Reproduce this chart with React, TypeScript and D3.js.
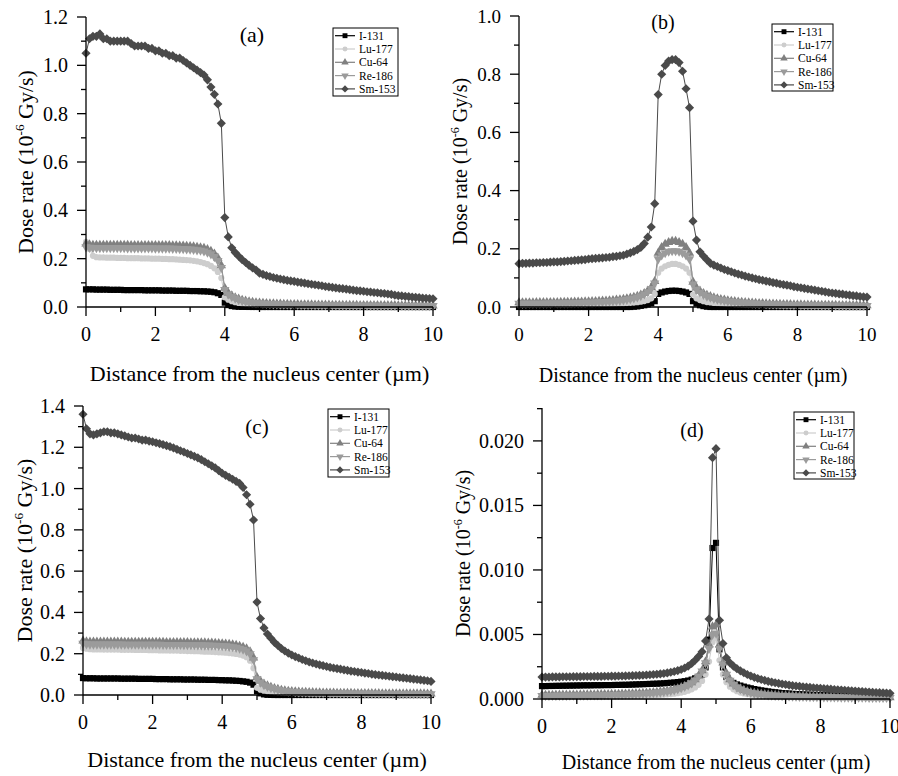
import React from 'react';
import * as d3 from 'd3';

// distance grid (µm), 0.1 step
const xs = d3.range(101).map(i => i / 10);

const seriesNames = ['I-131', 'Lu-177', 'Cu-64', 'Re-186', 'Sm-153'];
const seriesColors = ['#000000', '#cdcdcd', '#808080', '#9b9b9b', '#4a4a4a'];
const seriesShapes = ['square', 'circle', 'triangle', 'triangleDown', 'diamond'];

const xMajor = [0, 2, 4, 6, 8, 10];
const xMinor = [1, 3, 5, 7, 9];

// ---- panel (a)
const aI131 = [
  0.073, 0.073, 0.073, 0.072, 0.072, 0.072, 0.072, 0.071, 0.071, 0.071,
  0.071, 0.070, 0.070, 0.070, 0.070, 0.070, 0.070, 0.069, 0.069, 0.069,
  0.069, 0.069, 0.068, 0.068, 0.068, 0.068, 0.067, 0.067, 0.067, 0.067,
  0.066, 0.066, 0.066, 0.065, 0.065, 0.064, 0.063, 0.061, 0.057, 0.050,
  0.018, 0.008, 0.004, 0.002, 0.001, 0.0005, 0.0003, 0.0002, 0.0001, 0.0001,
  0, 0, 0, 0, 0, 0, 0, 0, 0, 0,
  0, 0, 0, 0, 0, 0, 0, 0, 0, 0,
  0, 0, 0, 0, 0, 0, 0, 0, 0, 0,
  0, 0, 0, 0, 0, 0, 0, 0, 0, 0,
  0, 0, 0, 0, 0, 0, 0, 0, 0, 0,
  0,
];
const aLu177 = [
  0.270, 0.240, 0.212, 0.206, 0.205, 0.205, 0.204, 0.204, 0.204, 0.203,
  0.203, 0.203, 0.202, 0.202, 0.202, 0.202, 0.201, 0.201, 0.201, 0.200,
  0.200, 0.200, 0.199, 0.199, 0.198, 0.198, 0.197, 0.196, 0.195, 0.194,
  0.193, 0.191, 0.189, 0.186, 0.182, 0.177, 0.170, 0.160, 0.145, 0.120,
  0.040, 0.030, 0.024, 0.020, 0.017, 0.015, 0.013, 0.012, 0.011, 0.010,
  0.0095, 0.0090, 0.0087, 0.0084, 0.0081, 0.0079, 0.0077, 0.0075, 0.0073, 0.0071,
  0.0070, 0.0068, 0.0067, 0.0066, 0.0064, 0.0063, 0.0062, 0.0061, 0.0060, 0.0059,
  0.0058, 0.0057, 0.0056, 0.0055, 0.0054, 0.0054, 0.0053, 0.0052, 0.0051, 0.0051,
  0.0050, 0.0049, 0.0049, 0.0048, 0.0047, 0.0047, 0.0046, 0.0046, 0.0045, 0.0045,
  0.0044, 0.0044, 0.0043, 0.0043, 0.0042, 0.0042, 0.0041, 0.0041, 0.0040, 0.0040,
  0.0040,
];
const aCu64 = [
  0.262, 0.258, 0.256, 0.256, 0.256, 0.256, 0.256, 0.256, 0.256, 0.256,
  0.256, 0.256, 0.256, 0.255, 0.255, 0.255, 0.255, 0.255, 0.255, 0.255,
  0.255, 0.255, 0.255, 0.255, 0.255, 0.254, 0.254, 0.253, 0.253, 0.252,
  0.251, 0.250, 0.248, 0.246, 0.243, 0.238, 0.231, 0.220, 0.203, 0.172,
  0.078, 0.058, 0.047, 0.039, 0.033, 0.028, 0.025, 0.022, 0.020, 0.018,
  0.017, 0.016, 0.015, 0.014, 0.0135, 0.013, 0.0125, 0.012, 0.0115, 0.011,
  0.0107, 0.0104, 0.0101, 0.0098, 0.0095, 0.0093, 0.0091, 0.0089, 0.0087, 0.0085,
  0.0083, 0.0081, 0.0080, 0.0078, 0.0077, 0.0075, 0.0074, 0.0073, 0.0072, 0.0070,
  0.0069, 0.0068, 0.0067, 0.0066, 0.0065, 0.0064, 0.0063, 0.0062, 0.0061, 0.0061,
  0.0060, 0.0059, 0.0058, 0.0058, 0.0057, 0.0056, 0.0056, 0.0055, 0.0054, 0.0054,
  0.0053,
];
const aRe186 = [
  0.248, 0.246, 0.245, 0.245, 0.245, 0.245, 0.245, 0.245, 0.245, 0.245,
  0.245, 0.245, 0.244, 0.244, 0.244, 0.244, 0.244, 0.244, 0.244, 0.244,
  0.243, 0.243, 0.243, 0.243, 0.243, 0.242, 0.242, 0.241, 0.241, 0.240,
  0.239, 0.238, 0.236, 0.234, 0.231, 0.226, 0.219, 0.208, 0.192, 0.163,
  0.072, 0.053, 0.043, 0.036, 0.030, 0.026, 0.023, 0.020, 0.018, 0.017,
  0.016, 0.015, 0.014, 0.013, 0.0125, 0.012, 0.0115, 0.011, 0.0105, 0.010,
  0.0098, 0.0095, 0.0092, 0.0090, 0.0087, 0.0085, 0.0083, 0.0081, 0.0079, 0.0077,
  0.0076, 0.0074, 0.0073, 0.0071, 0.0070, 0.0069, 0.0068, 0.0066, 0.0065, 0.0064,
  0.0063, 0.0062, 0.0061, 0.0060, 0.0059, 0.0058, 0.0058, 0.0057, 0.0056, 0.0055,
  0.0055, 0.0054, 0.0053, 0.0053, 0.0052, 0.0051, 0.0051, 0.0050, 0.0050, 0.0049,
  0.0049,
];
const aSm153 = [
  1.05, 1.11, 1.12, 1.12, 1.13, 1.11, 1.11, 1.10, 1.10, 1.10,
  1.10, 1.10, 1.10, 1.09, 1.08, 1.08, 1.08, 1.08, 1.07, 1.07,
  1.06, 1.06, 1.05, 1.05, 1.04, 1.04, 1.03, 1.03, 1.02, 1.01,
  1.00, 0.99, 0.98, 0.97, 0.96, 0.94, 0.91, 0.88, 0.84, 0.76,
  0.37, 0.29, 0.245, 0.225, 0.21, 0.196, 0.184, 0.172, 0.162, 0.153,
  0.140, 0.135, 0.130, 0.126, 0.122, 0.119, 0.116, 0.113, 0.110, 0.108,
  0.106, 0.103, 0.101, 0.099, 0.096, 0.094, 0.092, 0.090, 0.088, 0.085,
  0.083, 0.081, 0.079, 0.077, 0.076, 0.074, 0.072, 0.070, 0.068, 0.067,
  0.065, 0.063, 0.062, 0.060, 0.059, 0.057, 0.056, 0.054, 0.052, 0.049,
  0.047, 0.046, 0.044, 0.043, 0.041, 0.040, 0.039, 0.037, 0.036, 0.035,
  0.034,
];

// ---- panel (b)
const bI131 = [
  0, 0, 0, 0, 0, 0, 0, 0, 0, 0,
  0, 0, 0, 0, 0, 0, 0, 0, 0, 0,
  0, 0, 0, 0, 0, 0, 0, 0, 0, 0,
  0, 0, 0, 0.001, 0.002, 0.004, 0.006, 0.009, 0.013, 0.020,
  0.045, 0.050, 0.053, 0.055, 0.056, 0.056, 0.055, 0.053, 0.050, 0.045,
  0.020, 0.012, 0.006, 0.003, 0.001, 0, 0, 0, 0, 0,
  0, 0, 0, 0, 0, 0, 0, 0, 0, 0,
  0, 0, 0, 0, 0, 0, 0, 0, 0, 0,
  0, 0, 0, 0, 0, 0, 0, 0, 0, 0,
  0, 0, 0, 0, 0, 0, 0, 0, 0, 0,
  0,
];
const bLu177 = [
  0.0080, 0.0080, 0.0081, 0.0081, 0.0082, 0.0082, 0.0083, 0.0083, 0.0084, 0.0084,
  0.0085, 0.0086, 0.0087, 0.0088, 0.0089, 0.0090, 0.0091, 0.0092, 0.0093, 0.0094,
  0.0096, 0.0098, 0.0100, 0.0102, 0.0104, 0.0107, 0.0110, 0.0114, 0.0118, 0.0123,
  0.0128, 0.0135, 0.0143, 0.0153, 0.0166, 0.0183, 0.0205, 0.024, 0.030, 0.045,
  0.118, 0.132, 0.140, 0.145, 0.148, 0.148, 0.145, 0.140, 0.132, 0.118,
  0.043, 0.030, 0.024, 0.020, 0.017, 0.0155, 0.014, 0.013, 0.012, 0.0112,
  0.0105, 0.0099, 0.0094, 0.0089, 0.0085, 0.0081, 0.0077, 0.0074, 0.0071, 0.0068,
  0.0066, 0.0063, 0.0061, 0.0059, 0.0057, 0.0055, 0.0054, 0.0052, 0.0051, 0.0049,
  0.0048, 0.0047, 0.0046, 0.0045, 0.0044, 0.0043, 0.0042, 0.0041, 0.0040, 0.0039,
  0.0038, 0.0038, 0.0037, 0.0036, 0.0036, 0.0035, 0.0034, 0.0034, 0.0033, 0.0033,
  0.0032,
];
const bCu64 = [
  0.0150, 0.0150, 0.0151, 0.0152, 0.0153, 0.0154, 0.0155, 0.0156, 0.0157, 0.0158,
  0.0160, 0.0162, 0.0164, 0.0166, 0.0168, 0.0170, 0.0173, 0.0176, 0.0179, 0.0182,
  0.0186, 0.0190, 0.0195, 0.0200, 0.0206, 0.0213, 0.0221, 0.0230, 0.0241, 0.0254,
  0.0269, 0.0287, 0.0309, 0.0336, 0.0370, 0.0413, 0.0470, 0.055, 0.067, 0.088,
  0.185, 0.205, 0.216, 0.222, 0.226, 0.226, 0.222, 0.216, 0.205, 0.185,
  0.086, 0.066, 0.055, 0.047, 0.041, 0.036, 0.032, 0.029, 0.026, 0.024,
  0.022, 0.0205, 0.019, 0.0178, 0.0167, 0.0157, 0.0148, 0.014, 0.0133, 0.0126,
  0.012, 0.0114, 0.0109, 0.0104, 0.0100, 0.0096, 0.0092, 0.0089, 0.0086, 0.0083,
  0.0080, 0.0078, 0.0075, 0.0073, 0.0071, 0.0069, 0.0067, 0.0065, 0.0064, 0.0062,
  0.0061, 0.0059, 0.0058, 0.0057, 0.0056, 0.0054, 0.0053, 0.0052, 0.0051, 0.0050,
  0.0049,
];
const bRe186 = [
  0.0120, 0.0120, 0.0121, 0.0122, 0.0123, 0.0124, 0.0125, 0.0126, 0.0127, 0.0128,
  0.0130, 0.0132, 0.0134, 0.0136, 0.0138, 0.0140, 0.0143, 0.0146, 0.0149, 0.0152,
  0.0156, 0.0160, 0.0165, 0.0170, 0.0176, 0.0183, 0.0191, 0.0200, 0.0211, 0.0224,
  0.0239, 0.0257, 0.0279, 0.0306, 0.0340, 0.0383, 0.0440, 0.052, 0.063, 0.082,
  0.165, 0.178, 0.186, 0.191, 0.193, 0.193, 0.191, 0.186, 0.178, 0.165,
  0.078, 0.060, 0.050, 0.043, 0.037, 0.033, 0.029, 0.026, 0.024, 0.022,
  0.0200, 0.0186, 0.0173, 0.0162, 0.0152, 0.0143, 0.0135, 0.0128, 0.0121, 0.0115,
  0.0110, 0.0105, 0.0100, 0.0096, 0.0092, 0.0088, 0.0085, 0.0082, 0.0079, 0.0076,
  0.0074, 0.0072, 0.0069, 0.0067, 0.0065, 0.0064, 0.0062, 0.0060, 0.0059, 0.0057,
  0.0056, 0.0055, 0.0053, 0.0052, 0.0051, 0.0050, 0.0049, 0.0048, 0.0047, 0.0046,
  0.0045,
];
const bSm153 = [
  0.149, 0.150, 0.150, 0.151, 0.151, 0.152, 0.152, 0.153, 0.153, 0.154,
  0.155, 0.155, 0.156, 0.157, 0.158, 0.159, 0.160, 0.161, 0.162, 0.163,
  0.165, 0.166, 0.167, 0.168, 0.169, 0.170, 0.171, 0.173, 0.174, 0.176,
  0.178, 0.182, 0.186, 0.191, 0.197, 0.205, 0.218, 0.240, 0.275, 0.355,
  0.730, 0.800, 0.830, 0.845, 0.850, 0.850, 0.840, 0.810, 0.750, 0.685,
  0.295, 0.230, 0.190, 0.175, 0.162, 0.150, 0.144, 0.139, 0.134, 0.129,
  0.125, 0.121, 0.117, 0.113, 0.110, 0.106, 0.103, 0.100, 0.097, 0.094,
  0.092, 0.089, 0.087, 0.084, 0.082, 0.079, 0.077, 0.075, 0.073, 0.070,
  0.068, 0.066, 0.064, 0.062, 0.060, 0.058, 0.056, 0.054, 0.052, 0.050,
  0.048, 0.047, 0.045, 0.044, 0.042, 0.041, 0.039, 0.038, 0.036, 0.035,
  0.034,
];

// ---- panel (c)
const cI131 = [
  0.082, 0.081, 0.081, 0.081, 0.080, 0.080, 0.080, 0.080, 0.080, 0.080,
  0.080, 0.079, 0.079, 0.079, 0.079, 0.079, 0.078, 0.078, 0.078, 0.078,
  0.078, 0.077, 0.077, 0.077, 0.077, 0.076, 0.076, 0.076, 0.076, 0.075,
  0.075, 0.075, 0.075, 0.074, 0.074, 0.074, 0.073, 0.073, 0.073, 0.072,
  0.072, 0.071, 0.071, 0.070, 0.069, 0.068, 0.066, 0.064, 0.060, 0.050,
  0.018, 0.008, 0.003, 0.001, 0.0005, 0, 0, 0, 0, 0,
  0, 0, 0, 0, 0, 0, 0, 0, 0, 0,
  0, 0, 0, 0, 0, 0, 0, 0, 0, 0,
  0, 0, 0, 0, 0, 0, 0, 0, 0, 0,
  0, 0, 0, 0, 0, 0, 0, 0, 0, 0,
  0,
];
const cLu177 = [
  0.228, 0.224, 0.222, 0.221, 0.221, 0.221, 0.220, 0.220, 0.220, 0.220,
  0.220, 0.219, 0.219, 0.219, 0.219, 0.218, 0.218, 0.218, 0.218, 0.217,
  0.217, 0.217, 0.216, 0.216, 0.216, 0.215, 0.215, 0.215, 0.214, 0.214,
  0.213, 0.213, 0.212, 0.212, 0.211, 0.210, 0.210, 0.209, 0.208, 0.207,
  0.206, 0.205, 0.203, 0.201, 0.199, 0.196, 0.191, 0.183, 0.166, 0.130,
  0.035, 0.026, 0.021, 0.018, 0.016, 0.014, 0.013, 0.012, 0.011, 0.010,
  0.0095, 0.0091, 0.0087, 0.0083, 0.0080, 0.0077, 0.0074, 0.0072, 0.0070, 0.0068,
  0.0066, 0.0064, 0.0062, 0.0060, 0.0059, 0.0057, 0.0056, 0.0055, 0.0053, 0.0052,
  0.0051, 0.0050, 0.0049, 0.0048, 0.0047, 0.0046, 0.0045, 0.0045, 0.0044, 0.0043,
  0.0042, 0.0042, 0.0041, 0.0040, 0.0040, 0.0039, 0.0039, 0.0038, 0.0037, 0.0037,
  0.0036,
];
const cCu64 = [
  0.262, 0.258, 0.257, 0.257, 0.257, 0.257, 0.257, 0.257, 0.257, 0.257,
  0.257, 0.257, 0.256, 0.256, 0.256, 0.256, 0.256, 0.256, 0.256, 0.256,
  0.256, 0.256, 0.256, 0.256, 0.255, 0.255, 0.255, 0.255, 0.255, 0.255,
  0.255, 0.254, 0.254, 0.254, 0.253, 0.253, 0.252, 0.252, 0.251, 0.250,
  0.249, 0.248, 0.246, 0.244, 0.241, 0.237, 0.232, 0.224, 0.210, 0.180,
  0.085, 0.067, 0.054, 0.045, 0.038, 0.032, 0.028, 0.024, 0.021, 0.019,
  0.0175, 0.0162, 0.0151, 0.0142, 0.0134, 0.0127, 0.0121, 0.0116, 0.0111, 0.0107,
  0.0103, 0.0100, 0.0097, 0.0094, 0.0092, 0.0089, 0.0087, 0.0085, 0.0083, 0.0081,
  0.0079, 0.0078, 0.0076, 0.0075, 0.0073, 0.0072, 0.0071, 0.0070, 0.0068, 0.0067,
  0.0066, 0.0065, 0.0064, 0.0063, 0.0062, 0.0062, 0.0061, 0.0060, 0.0059, 0.0058,
  0.0058,
];
const cRe186 = [
  0.250, 0.247, 0.246, 0.246, 0.246, 0.246, 0.246, 0.246, 0.246, 0.246,
  0.246, 0.246, 0.245, 0.245, 0.245, 0.245, 0.245, 0.245, 0.245, 0.245,
  0.245, 0.245, 0.245, 0.244, 0.244, 0.244, 0.244, 0.244, 0.244, 0.243,
  0.243, 0.243, 0.243, 0.242, 0.242, 0.241, 0.241, 0.240, 0.240, 0.239,
  0.238, 0.237, 0.235, 0.233, 0.230, 0.226, 0.221, 0.213, 0.199, 0.170,
  0.078, 0.061, 0.049, 0.041, 0.035, 0.030, 0.026, 0.022, 0.020, 0.018,
  0.0165, 0.0153, 0.0143, 0.0134, 0.0126, 0.0120, 0.0114, 0.0109, 0.0105, 0.0101,
  0.0097, 0.0094, 0.0091, 0.0088, 0.0086, 0.0084, 0.0082, 0.0080, 0.0078, 0.0076,
  0.0074, 0.0073, 0.0071, 0.0070, 0.0069, 0.0067, 0.0066, 0.0065, 0.0064, 0.0063,
  0.0062, 0.0061, 0.0060, 0.0059, 0.0058, 0.0058, 0.0057, 0.0056, 0.0055, 0.0055,
  0.0054,
];
const cSm153 = [
  1.36, 1.29, 1.265, 1.26, 1.265, 1.27, 1.275, 1.275, 1.27, 1.27,
  1.265, 1.26, 1.255, 1.25, 1.245, 1.245, 1.24, 1.235, 1.235, 1.23,
  1.227, 1.222, 1.218, 1.213, 1.208, 1.203, 1.197, 1.19, 1.183, 1.177,
  1.17, 1.163, 1.156, 1.149, 1.14, 1.13, 1.12, 1.11, 1.10, 1.087,
  1.074, 1.064, 1.055, 1.045, 1.035, 1.025, 1.005, 0.97, 0.924, 0.848,
  0.45, 0.37, 0.325, 0.295, 0.275, 0.255, 0.24, 0.225, 0.213, 0.203,
  0.194, 0.186, 0.179, 0.172, 0.166, 0.16, 0.155, 0.15, 0.146, 0.142,
  0.138, 0.134, 0.131, 0.128, 0.125, 0.122, 0.119, 0.116, 0.114, 0.111,
  0.109, 0.106, 0.104, 0.101, 0.099, 0.097, 0.095, 0.093, 0.091, 0.089,
  0.087, 0.085, 0.083, 0.081, 0.079, 0.077, 0.075, 0.073, 0.071, 0.069,
  0.066,
];

// ---- panel (d)
const dI131 = [
  0.00100, 0.00100, 0.00101, 0.00101, 0.00102, 0.00102, 0.00103, 0.00103, 0.00104, 0.00104,
  0.00105, 0.00105, 0.00106, 0.00106, 0.00106, 0.00107, 0.00107, 0.00107, 0.00108, 0.00108,
  0.00108, 0.00109, 0.00109, 0.00110, 0.00110, 0.00111, 0.00112, 0.00113, 0.00114, 0.00115,
  0.00116, 0.00117, 0.00118, 0.00119, 0.00120, 0.00122, 0.00124, 0.00126, 0.00128, 0.00131,
  0.00134, 0.00138, 0.00143, 0.00150, 0.00160, 0.00172, 0.00186, 0.00245, 0.00460, 0.01170,
  0.01210, 0.00385, 0.00245, 0.00170, 0.00140, 0.00125, 0.00113, 0.00104, 0.00096, 0.00089,
  0.00083, 0.00077, 0.00072, 0.00067, 0.00063, 0.00059, 0.00055, 0.00052, 0.00049, 0.00046,
  0.00044, 0.00042, 0.00040, 0.00038, 0.00037, 0.00035, 0.00034, 0.00033, 0.00032, 0.00031,
  0.00030, 0.00029, 0.00028, 0.00027, 0.00026, 0.00026, 0.00025, 0.00024, 0.00023, 0.00023,
  0.00022, 0.00022, 0.00021, 0.00021, 0.00020, 0.00020, 0.00019, 0.00019, 0.00018, 0.00018,
  0.00018,
];
const dLu177 = [
  0.00020, 0.00020, 0.00020, 0.00020, 0.00020, 0.00020, 0.00021, 0.00021, 0.00021, 0.00021,
  0.00021, 0.00021, 0.00022, 0.00022, 0.00022, 0.00022, 0.00022, 0.00023, 0.00023, 0.00023,
  0.00023, 0.00024, 0.00024, 0.00024, 0.00025, 0.00025, 0.00026, 0.00026, 0.00027, 0.00027,
  0.00028, 0.00029, 0.00030, 0.00031, 0.00032, 0.00034, 0.00036, 0.00038, 0.00041, 0.00045,
  0.00050, 0.00056, 0.00064, 0.00075, 0.00090, 0.00110, 0.00140, 0.00190, 0.00290, 0.00440,
  0.00470, 0.00300, 0.00190, 0.00130, 0.00095, 0.00075, 0.00060, 0.00050, 0.00043, 0.00038,
  0.00034, 0.00031, 0.00028, 0.00026, 0.00024, 0.00022, 0.00021, 0.00020, 0.00019, 0.00018,
  0.00017, 0.00016, 0.00015, 0.00015, 0.00014, 0.00014, 0.00013, 0.00013, 0.00012, 0.00012,
  0.00011, 0.00011, 0.00011, 0.00010, 0.00010, 0.00010, 0.00010, 0.00009, 0.00009, 0.00009,
  0.00009, 0.00009, 0.00008, 0.00008, 0.00008, 0.00008, 0.00008, 0.00008, 0.00007, 0.00007,
  0.00007,
];
const dCu64 = [
  0.00030, 0.00030, 0.00030, 0.00030, 0.00031, 0.00031, 0.00031, 0.00031, 0.00032, 0.00032,
  0.00032, 0.00033, 0.00033, 0.00033, 0.00034, 0.00034, 0.00035, 0.00035, 0.00036, 0.00036,
  0.00037, 0.00037, 0.00038, 0.00039, 0.00040, 0.00041, 0.00042, 0.00043, 0.00044, 0.00045,
  0.00047, 0.00049, 0.00051, 0.00053, 0.00056, 0.00059, 0.00063, 0.00068, 0.00074, 0.00081,
  0.00090, 0.00100, 0.00112, 0.00128, 0.00150, 0.00180, 0.00220, 0.00290, 0.00420, 0.00560,
  0.00575, 0.00420, 0.00280, 0.00200, 0.00150, 0.00118, 0.00096, 0.00080, 0.00068, 0.00059,
  0.00052, 0.00047, 0.00043, 0.00039, 0.00036, 0.00033, 0.00031, 0.00029, 0.00027, 0.00026,
  0.00025, 0.00024, 0.00023, 0.00022, 0.00021, 0.00020, 0.00019, 0.00019, 0.00018, 0.00018,
  0.00017, 0.00017, 0.00016, 0.00016, 0.00015, 0.00015, 0.00015, 0.00014, 0.00014, 0.00014,
  0.00013, 0.00013, 0.00013, 0.00013, 0.00012, 0.00012, 0.00012, 0.00012, 0.00011, 0.00011,
  0.00011,
];
const dRe186 = [
  0.00026, 0.00026, 0.00026, 0.00026, 0.00027, 0.00027, 0.00027, 0.00027, 0.00028, 0.00028,
  0.00028, 0.00029, 0.00029, 0.00029, 0.00030, 0.00030, 0.00031, 0.00031, 0.00032, 0.00032,
  0.00033, 0.00033, 0.00034, 0.00035, 0.00036, 0.00037, 0.00038, 0.00039, 0.00040, 0.00041,
  0.00043, 0.00045, 0.00047, 0.00049, 0.00052, 0.00055, 0.00059, 0.00064, 0.00070, 0.00077,
  0.00086, 0.00096, 0.00108, 0.00124, 0.00145, 0.00175, 0.00215, 0.00280, 0.00390, 0.00500,
  0.00510, 0.00390, 0.00270, 0.00190, 0.00143, 0.00112, 0.00091, 0.00076, 0.00065, 0.00056,
  0.00049, 0.00044, 0.00040, 0.00037, 0.00034, 0.00031, 0.00029, 0.00027, 0.00026, 0.00024,
  0.00023, 0.00022, 0.00021, 0.00020, 0.00019, 0.00019, 0.00018, 0.00017, 0.00017, 0.00016,
  0.00016, 0.00015, 0.00015, 0.00015, 0.00014, 0.00014, 0.00013, 0.00013, 0.00013, 0.00013,
  0.00012, 0.00012, 0.00012, 0.00012, 0.00011, 0.00011, 0.00011, 0.00011, 0.00010, 0.00010,
  0.00010,
];
const dSm153 = [
  0.00170, 0.00170, 0.00170, 0.00171, 0.00171, 0.00171, 0.00172, 0.00172, 0.00172, 0.00173,
  0.00173, 0.00173, 0.00174, 0.00174, 0.00174, 0.00175, 0.00175, 0.00175, 0.00176, 0.00176,
  0.00177, 0.00177, 0.00178, 0.00178, 0.00179, 0.00180, 0.00181, 0.00182, 0.00183, 0.00184,
  0.00186, 0.00188, 0.00190, 0.00192, 0.00195, 0.00198, 0.00202, 0.00207, 0.00213, 0.00220,
  0.00229, 0.00240, 0.00255, 0.00275, 0.00300, 0.00330, 0.00367, 0.00450, 0.00620, 0.01870,
  0.01940, 0.00610, 0.00430, 0.00320, 0.00280, 0.00255, 0.00235, 0.00218, 0.00203, 0.00190,
  0.00178, 0.00168, 0.00159, 0.00151, 0.00144, 0.00137, 0.00131, 0.00126, 0.00121, 0.00116,
  0.00112, 0.00108, 0.00104, 0.00101, 0.00098, 0.00095, 0.00092, 0.00090, 0.00087, 0.00085,
  0.00083, 0.00080, 0.00078, 0.00076, 0.00074, 0.00072, 0.00070, 0.00068, 0.00066, 0.00064,
  0.00062, 0.00060, 0.00058, 0.00056, 0.00054, 0.00052, 0.00050, 0.00049, 0.00047, 0.00046,
  0.00044,
];

interface PanelSpec {
  tag: string;
  series: number[][];
  left: number;
  right: number;
  top: number;
  bottom: number;
  yMax: number;
  yStep: number;
  yMinorStep: number;
  yFormat: string;
  tickFont: number;
  titleFont: number;
  xTitleY: number;
  yTitleX: number;
  tagX: number;
  tagY: number;
  tagFont: number;
  legend: [number, number, number, number];
}

const panels: PanelSpec[] = [
  {
    tag: '(a)', series: [aI131, aLu177, aCu64, aRe186, aSm153],
    left: 86, right: 433, top: 17, bottom: 307,
    yMax: 1.2, yStep: 0.2, yMinorStep: 0.1, yFormat: '.1f',
    tickFont: 20, titleFont: 22, xTitleY: 381, yTitleX: 33,
    tagX: 252, tagY: 42, tagFont: 22, legend: [333, 28, 65, 68],
  },
  {
    tag: '(b)', series: [bI131, bLu177, bCu64, bRe186, bSm153],
    left: 519, right: 867, top: 16, bottom: 307,
    yMax: 1.0, yStep: 0.2, yMinorStep: 0.1, yFormat: '.1f',
    tickFont: 19, titleFont: 20, xTitleY: 382, yTitleX: 467,
    tagX: 663, tagY: 29, tagFont: 20, legend: [772, 24, 61, 67],
  },
  {
    tag: '(c)', series: [cI131, cLu177, cCu64, cRe186, cSm153],
    left: 83, right: 431, top: 406, bottom: 695,
    yMax: 1.4, yStep: 0.2, yMinorStep: 0.1, yFormat: '.1f',
    tickFont: 20, titleFont: 22, xTitleY: 767, yTitleX: 32,
    tagX: 257, tagY: 434, tagFont: 21, legend: [328, 409, 61, 68],
  },
  {
    tag: '(d)', series: [dI131, dLu177, dCu64, dRe186, dSm153],
    left: 542, right: 890, top: 408, bottom: 699,
    yMax: 0.02255, yStep: 0.005, yMinorStep: 0.0025, yFormat: '.3f',
    tickFont: 20, titleFont: 20, xTitleY: 769, yTitleX: 470,
    tagX: 692, tagY: 437, tagFont: 20, legend: [794, 412, 60, 67],
  },
];

const FONT = "'Liberation Serif', 'Times New Roman', serif";

function marker(shape: string, size: number): { d: string; rot: number } {
  switch (shape) {
    case 'square': return { d: d3.symbol(d3.symbolSquare, size)() as string, rot: 0 };
    case 'circle': return { d: d3.symbol(d3.symbolCircle, size * 0.8)() as string, rot: 0 };
    case 'triangle': return { d: d3.symbol(d3.symbolTriangle, size)() as string, rot: 0 };
    case 'triangleDown': return { d: d3.symbol(d3.symbolTriangle, size)() as string, rot: 180 };
    default: return { d: d3.symbol(d3.symbolSquare, size * 1.1)() as string, rot: 45 };
  }
}

function Panel({ spec }: { spec: PanelSpec }) {
  const x = d3.scaleLinear().domain([0, 10]).range([spec.left, spec.right]);
  const y = d3.scaleLinear().domain([0, spec.yMax]).range([spec.bottom, spec.top]);
  const line = d3.line<number>().x((_, i) => x(xs[i])).y(d => y(d));
  const fmt = d3.format(spec.yFormat);

  const eps = spec.yStep / 100;
  const yMajor = d3.range(0, spec.yMax + eps, spec.yStep).filter(v => v <= spec.yMax + eps);
  const yMinor = d3.range(spec.yMinorStep, spec.yMax + eps, spec.yStep);

  const [lx, ly, lw, lh] = spec.legend;
  const midY = (spec.top + spec.bottom) / 2;
  const supShift = spec.titleFont * 0.42;

  return (
    <g fontFamily={FONT} fill="#000">
      {/* series lines, then markers */}
      {spec.series.map((vals, si) => {
        const m = marker(seriesShapes[si], 38);
        return (
          <g key={si}>
            <path d={line(vals) as string} fill="none" stroke={seriesColors[si]} strokeWidth={1} />
            {vals.map((v, i) => (
              <path
                key={i}
                d={m.d}
                transform={`translate(${x(xs[i])},${y(v)}) rotate(${m.rot})`}
                fill={seriesColors[si]}
              />
            ))}
          </g>
        );
      })}

      {/* axes */}
      <g stroke="#000" strokeWidth={1.3}>
        <line x1={spec.left} x2={spec.left} y1={spec.top} y2={spec.bottom} />
        <line x1={spec.left} x2={spec.right} y1={spec.bottom} y2={spec.bottom} />
        {yMajor.map(v => <line key={'ym' + v} x1={spec.left - 9} x2={spec.left} y1={y(v)} y2={y(v)} />)}
        {yMinor.map(v => <line key={'yn' + v} x1={spec.left - 5} x2={spec.left} y1={y(v)} y2={y(v)} />)}
        {xMajor.map(v => <line key={'xm' + v} x1={x(v)} x2={x(v)} y1={spec.bottom} y2={spec.bottom + 9} />)}
        {xMinor.map(v => <line key={'xn' + v} x1={x(v)} x2={x(v)} y1={spec.bottom} y2={spec.bottom + 5} />)}
      </g>
      {yMajor.map(v => (
        <text key={'yl' + v} x={spec.left - 18} y={y(v)} dy="0.35em" textAnchor="end" fontSize={spec.tickFont}>
          {fmt(v)}
        </text>
      ))}
      {xMajor.map(v => (
        <text key={'xl' + v} x={x(v)} y={spec.bottom + 34} textAnchor="middle" fontSize={spec.tickFont}>
          {v}
        </text>
      ))}

      {/* axis titles */}
      <text x={(spec.left + spec.right) / 2} y={spec.xTitleY} textAnchor="middle" fontSize={spec.titleFont}>
        Distance from the nucleus center (µm)
      </text>
      <text
        transform={`translate(${spec.yTitleX},${midY}) rotate(-90)`}
        textAnchor="middle"
        fontSize={spec.titleFont}
      >
        Dose rate (10
        <tspan dy={-supShift} fontSize={spec.titleFont * 0.6}>-6</tspan>
        <tspan dy={supShift}> Gy/s)</tspan>
      </text>

      <text x={spec.tagX} y={spec.tagY} textAnchor="middle" fontSize={spec.tagFont}>{spec.tag}</text>

      {/* legend */}
      <rect x={lx} y={ly} width={lw} height={lh} fill="#fff" stroke="#000" strokeWidth={1} />
      {seriesNames.map((name, si) => {
        const ry = ly + 7.7 + si * 13.3;
        const m = marker(seriesShapes[si], 24);
        return (
          <g key={name}>
            <line x1={lx + 2} x2={lx + 22} y1={ry} y2={ry} stroke={seriesColors[si]} strokeWidth={1.2} />
            <path d={m.d} transform={`translate(${lx + 12},${ry}) rotate(${m.rot})`} fill={seriesColors[si]} />
            <text x={lx + 26} y={ry + 4} fontSize={11.5}>{name}</text>
          </g>
        );
      })}
    </g>
  );
}

export default function App() {
  return (
    <svg
      width={898}
      height={776}
      style={{ position: 'absolute', left: 0, top: 0, background: '#fff' }}
    >
      <rect width={898} height={776} fill="#fff" />
      {panels.map(p => <Panel key={p.tag} spec={p} />)}
    </svg>
  );
}
